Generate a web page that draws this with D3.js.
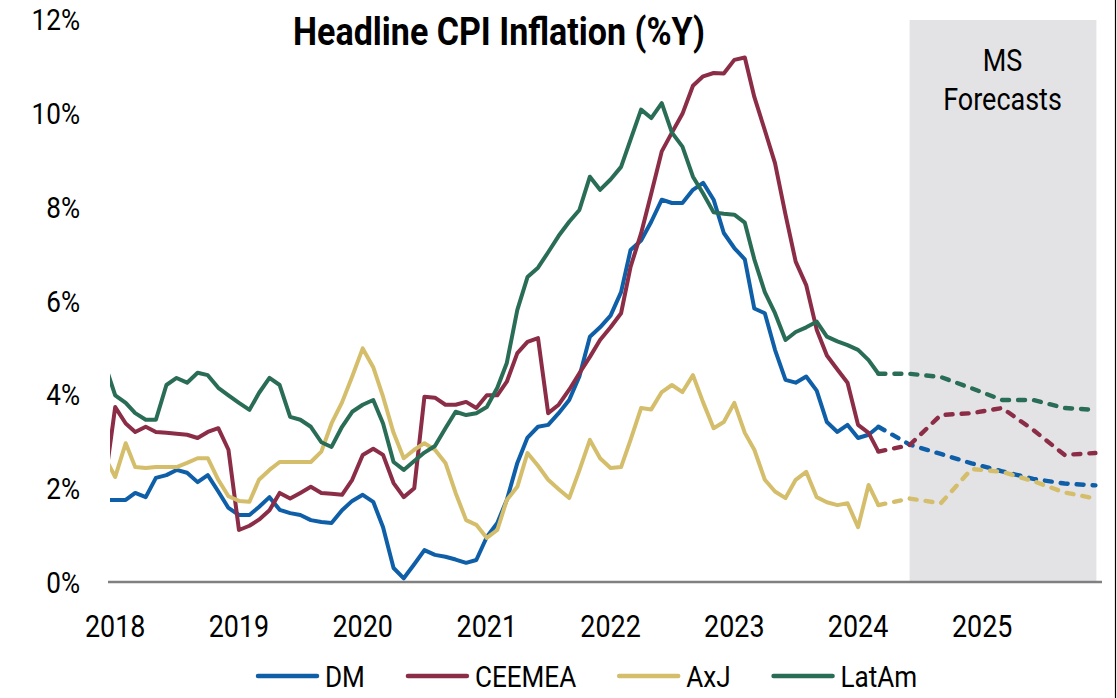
<!DOCTYPE html>
<html><head><meta charset="utf-8">
<script src="https://cdn.jsdelivr.net/npm/d3@7"></script>
<style>
body{margin:0;background:#fff;}
svg{display:block;}
text{font-family:Roboto,"Noto Sans",sans-serif;fill:#000;}
</style>
</head><body>
<svg id="chart" width="1117" height="698"></svg>
<script>
// ---------- DATA ----------
const seriesNames = ["DM", "CEEMEA", "AxJ", "LatAm"];
const seriesColors = ["#0F5FA8", "#8C2D47", "#D5BE6B", "#2A6D56"];
// monthly actuals, first value = Dec 2017, last = Mar 2024
const firstMonth = "2017-12";
const dmActual = [1.77,1.77,1.77,1.92,1.83,2.24,2.3,2.41,2.35,2.15,2.3,1.95,
  1.6,1.45,1.45,1.62,1.83,1.56,1.49,1.45,1.34,1.3,1.28,1.55,
  1.75,1.88,1.73,1.19,0.32,0.1,0.4,0.7,0.6,0.56,0.5,0.43,
  0.49,0.98,1.28,1.77,2.56,3.1,3.33,3.37,3.62,3.9,4.4,5.25,
  5.45,5.7,6.2,7.1,7.3,7.7,8.17,8.1,8.1,8.38,8.53,8.17,
  7.46,7.14,6.9,5.85,5.75,4.97,4.33,4.27,4.4,4.1,3.43,3.22,
  3.37,3.09,3.16,3.33];
const ceemeaActual = [2.1,3.75,3.4,3.22,3.33,3.22,3.2,3.18,3.16,3.09,3.22,3.3,
  2.84,1.13,1.22,1.35,1.55,1.92,1.8,1.92,2.05,1.92,1.9,1.88,
  2.2,2.73,2.86,2.73,2.13,1.83,2.02,3.97,3.95,3.8,3.8,3.86,
  3.73,4.0,4.0,4.29,4.9,5.14,5.22,3.62,3.8,4.12,4.47,4.82,
  5.18,5.45,5.75,6.74,7.45,8.3,9.2,9.6,10.0,10.6,10.8,10.87,
  10.86,11.15,11.2,10.36,9.65,8.95,7.85,6.85,6.35,5.4,4.85,4.55,
  4.27,3.37,3.2,2.8];
const axjActual = [2.69,2.26,2.98,2.47,2.45,2.47,2.47,2.47,2.56,2.66,2.66,2.2,
  1.85,1.75,1.73,2.2,2.41,2.58,2.58,2.58,2.58,2.8,3.4,3.85,
  4.4,5.0,4.6,3.97,3.2,2.66,2.84,2.98,2.84,2.56,1.92,1.34,
  1.24,0.96,1.13,1.77,2.05,2.77,2.5,2.2,2.0,1.81,2.4,3.05,
  2.66,2.45,2.47,3.05,3.73,3.7,4.07,4.22,4.07,4.43,3.85,3.3,
  3.43,3.84,3.2,2.84,2.2,1.95,1.81,2.2,2.37,1.83,1.72,1.66,
  1.7,1.19,2.09,1.66];
const latamActual = [4.68,4.0,3.84,3.62,3.48,3.48,4.22,4.37,4.27,4.48,4.43,4.16,
  4.0,3.84,3.69,4.05,4.37,4.22,3.54,3.48,3.33,3.0,2.9,3.33,
  3.65,3.8,3.9,3.4,2.58,2.41,2.6,2.78,2.92,3.3,3.65,3.58,
  3.62,3.75,4.16,4.69,5.82,6.52,6.72,7.05,7.4,7.7,7.95,8.66,
  8.38,8.6,8.87,9.45,10.09,9.91,10.23,9.6,9.3,8.66,8.3,7.9,
  7.87,7.85,7.68,6.9,6.2,5.75,5.18,5.35,5.45,5.57,5.25,5.15,
  5.07,4.97,4.75,4.46];
// MS forecasts (quarterly points)
const forecastMonths = ["2024-03","2024-06","2024-09","2024-12","2025-03","2025-06","2025-09","2025-12"];
const dmForecast     = [3.33, 2.95, 2.75, 2.55, 2.38, 2.22, 2.12, 2.08];
const ceemeaForecast = [2.8, 2.94, 3.58, 3.62, 3.73, 3.26, 2.73, 2.77];
const axjForecast    = [1.66, 1.8, 1.7, 2.43, 2.37, 2.17, 1.93, 1.8];
const latamForecast  = [4.46, 4.46, 4.39, 4.15, 3.9, 3.9, 3.73, 3.69];
const forecastStart = "2024-06";
const forecastEnd = "2025-12";
const yTicks = [0, 2, 4, 6, 8, 10, 12];
const xTickYears = [2018, 2019, 2020, 2021, 2022, 2023, 2024, 2025];
const titleText = "Headline CPI Inflation (%Y)";
const forecastLabel = ["MS", "Forecasts"];

// ---------- SETUP ----------
const svg = d3.select("#chart");
const parseM = d3.timeParse("%Y-%m");
const t0 = parseM(firstMonth);
const tEnd = parseM("2025-12");
const x = d3.scaleTime().domain([t0, tEnd]).range([104.7, 1095.4]);
const y = d3.scaleLinear().domain([0, 12]).range([583, 20]);
const SX = 0.87; // condensed look

const actuals = [dmActual, ceemeaActual, axjActual, latamActual];
const forecasts = [dmForecast, ceemeaForecast, axjForecast, latamForecast];

svg.append("defs").append("clipPath").attr("id", "plotclip")
  .append("rect").attr("x", 110).attr("y", 0).attr("width", 992).attr("height", 600);

// forecast shading
svg.append("rect")
  .attr("x", x(parseM(forecastStart)))
  .attr("y", y(12))
  .attr("width", x(parseM(forecastEnd)) - x(parseM(forecastStart)) + 1)
  .attr("height", y(0) - y(12))
  .attr("fill", "#E3E3E6");

// axis baseline
svg.append("line")
  .attr("x1", 108).attr("x2", 1102)
  .attr("y1", y(0) - 1).attr("y2", y(0) - 1)
  .attr("stroke", "#808080").attr("stroke-width", 2.5);

// right border
svg.append("line").attr("x1", 1115.5).attr("x2", 1115.5).attr("y1", 0).attr("y2", 698)
  .attr("stroke", "#000").attr("stroke-width", 1.2);

// y tick labels
const yAxisG = svg.append("g");
yTicks.forEach(v => {
  yAxisG.append("text")
    .attr("transform", `translate(80,${y(v) + 10}) scale(${SX},1)`)
    .attr("text-anchor", "end")
    .attr("font-size", 30)
    .text(v + "%");
});

// x tick labels
xTickYears.forEach(yr => {
  svg.append("text")
    .attr("transform", `translate(${x(new Date(yr, 0, 1))},637) scale(${SX - 0.03},1)`)
    .attr("text-anchor", "middle")
    .attr("font-size", 32)
    .text(yr);
});

// lines
const line = d3.line().x(d => x(d.date)).y(d => y(d.v)).curve(d3.curveLinear);
const plot = svg.append("g").attr("clip-path", "url(#plotclip)");
actuals.forEach((arr, i) => {
  const pts = arr.map((v, k) => ({ date: d3.timeMonth.offset(t0, k), v }));
  const fpts = forecasts[i].map((v, k) => ({ date: parseM(forecastMonths[k]), v }));
  plot.append("path").datum(fpts).attr("d", line)
    .attr("fill", "none").attr("stroke", seriesColors[i])
    .attr("stroke-width", 4.4).attr("stroke-dasharray", "7,9")
    .attr("stroke-linecap", "round").attr("stroke-linejoin", "round");
  plot.append("path").datum(pts).attr("d", line)
    .attr("fill", "none").attr("stroke", seriesColors[i])
    .attr("stroke-width", 4).attr("stroke-linejoin", "round");
});

// title
const title = svg.append("text")
  .attr("text-anchor", "middle")
  .attr("font-size", 38).attr("font-weight", "bold")
  .text(titleText);
const tw = title.node().getComputedTextLength();
title.attr("transform", `translate(499,45) scale(${412 / tw},1)`);

// forecast label
const fx = (x(parseM(forecastStart)) + x(parseM(forecastEnd))) / 2;
forecastLabel.forEach((s, i) => {
  svg.append("text")
    .attr("transform", `translate(${fx},${71 + i * 39}) scale(${SX},1)`)
    .attr("text-anchor", "middle").attr("font-size", 31)
    .text(s);
});

// legend
let lx = 258;
const ly = 676;
seriesNames.forEach((n, i) => {
  svg.append("line").attr("x1", lx).attr("x2", lx + 59).attr("y1", ly).attr("y2", ly)
    .attr("stroke", seriesColors[i]).attr("stroke-width", 4.5).attr("stroke-linecap", "round");
  const t = svg.append("text")
    .attr("transform", `translate(${lx + 67},687) scale(${SX},1)`)
    .attr("font-size", 30).text(n);
  const w = t.node().getComputedTextLength() * SX;
  lx += 67 + w + 43;
});
</script>
</body></html>
